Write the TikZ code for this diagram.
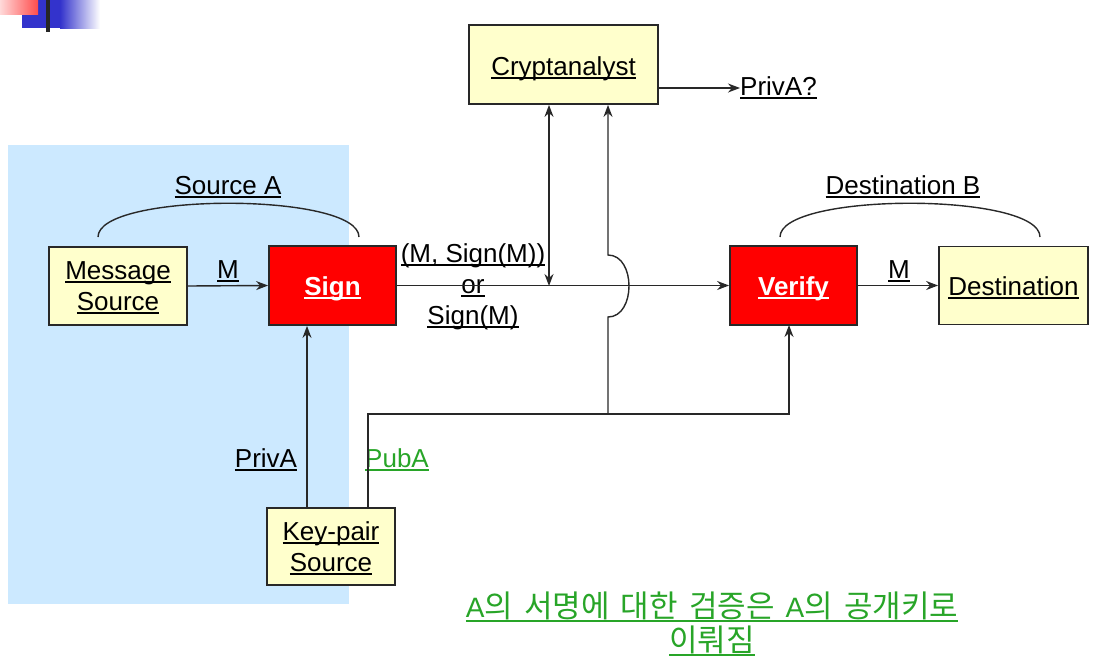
\documentclass[tikz,border=0pt]{standalone}
\usepackage{fontspec}
\setmainfont{Liberation Sans}
\newfontfamily\krfont[WordSpace=1.6]{Noto Sans CJK KR}
\usetikzlibrary{arrows.meta}
\definecolor{bgblue}{RGB}{204,233,255}
\definecolor{boxyel}{RGB}{255,255,204}
\definecolor{sigred}{RGB}{255,0,0}
\definecolor{grn}{RGB}{40,165,40}
\definecolor{dkline}{RGB}{40,40,40}
\definecolor{decoblue}{RGB}{51,51,204}
\newcommand\uln[1]{\setbox0\hbox{#1}\leavevmode\rlap{\rule[-0.13em]{\wd0}{0.07em}}\box0}
\newcommand\dn[2]{\raisebox{-#1}[\height][\depth]{#2}}
\newcommand\latA{{\rmfamily\fontsize{28}{34}\selectfont A}}
\tikzset{
  ybox/.style={draw=dkline,line width=1.8pt,fill=boxyel,inner sep=0pt,align=center,font=\fontsize{26}{31}\selectfont},
  rbox/.style={ybox,fill=sigred,text=white,font=\fontsize{26}{31}\selectfont\bfseries},
  conn/.style={line width=1.4pt,draw=dkline},
  arr/.style={conn,-{Stealth[length=12pt,width=9pt]}},
  darr/.style={conn,{Stealth[length=12pt,width=9pt]}-{Stealth[length=12pt,width=9pt]}},
  lbl/.style={font=\fontsize{26}{31}\selectfont,inner sep=0pt,align=center},
  hump/.style={line width=1.4pt,draw=dkline}
}
\begin{document}
\begin{tikzpicture}[x=1pt,y=-1pt]
\useasboundingbox (0,0) rectangle (1106,672);
% decoration
\fill[decoblue] (22,0) rectangle (60,28);
\shade[left color=decoblue,right color=white] (60,0) rectangle (100,28);
\shade[left color=red!15,right color=red!70] (0,0) rectangle (38,14);
\fill[black!85] (46,0) rectangle (50,32);
% background region
\fill[bgblue] (8,145) rectangle (349,604);
% boxes
\node[ybox,minimum width=138pt,minimum height=78pt] (msg) at (118,286) {\dn{2pt}{\uln{Message}}\\\dn{2pt}{\uln{Source}}};
\node[rbox,minimum width=127pt,minimum height=79pt] (sign) at (332.5,285.5) {\dn{3pt}{\uln{Sign}}};
\node[ybox,minimum width=189pt,minimum height=79pt] (crypt) at (563.5,64.5) {\dn{4pt}{\uln{Cryptanalyst}}};
\node[ybox,minimum width=128pt,minimum height=77pt] (kp) at (331,546.5) {\dn{2pt}{\uln{Key-pair}}\\\dn{2pt}{\uln{Source}}};
\node[rbox,minimum width=127pt,minimum height=79pt] (ver) at (793.5,285.5) {\dn{3pt}{\uln{Verify}}};
\node[ybox,minimum width=149pt,minimum height=78pt] (dest) at (1013.5,285.5) {\dn{2pt}{\uln{Destination}}};
% labels
\node[lbl] (lm1) at (228,271) {\uln{M}};
\node[lbl] (lm2) at (899,271) {\uln{M}};
\node[lbl] (lsa) at (228,187) {\uln{Source A}};
\node[lbl] (ldb) at (903,187) {\uln{Destination B}};
\node[lbl] (lsig) at (473,287) {\uln{(M, Sign(M))}\\\uln{or}\\\uln{Sign(M)}};
\node[lbl,anchor=west] (privq) at (740,88) {\uln{PrivA?}};
\node[lbl] (lpriv) at (266,460) {\uln{PrivA}};
\node[lbl,text=grn] (lpub) at (397,460) {\uln{PubA}};
\node[lbl,text=grn,font=\fontsize{31}{34}\selectfont\krfont] (kr) at (712,624) {\uln{\latA 의 서명에 대한 검증은 \latA 의 공개키로}\\\uln{이뤄짐}};
% arcs
\draw[hump] (98,237) .. controls (98,192) and (359,192) .. (359,237);
\draw[hump] (780,237) .. controls (780,192) and (1040,192) .. (1040,237);
% connectors
\draw[arr] (msg.east) -- (sign.west);
\draw[arr] (sign.east) -- (ver.west);
\draw[arr] (ver.east) -- (dest.west);
\draw[arr] (crypt.east |- privq.west) -- (privq.west);
\coordinate (j1) at (549,286);
\draw[darr] (j1) -- (j1 |- crypt.south);
\coordinate (j2) at (608,414);
\draw[arr] (j2) -- (608,317) .. controls (636,317) and (636,255) .. (608,255) -- (j2 |- crypt.south);
\coordinate (kp1) at (307,508);
\draw[arr] (kp1) -- (kp1 |- sign.south);
\coordinate (kp2) at (368,508);
\coordinate (v2) at (789,325);
\draw[arr] (kp2) -- (kp2 |- j2) -- (v2 |- j2) -- (v2);
\end{tikzpicture}
\end{document}
